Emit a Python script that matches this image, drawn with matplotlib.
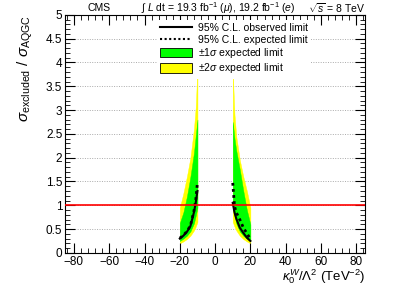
import matplotlib.pyplot as plt
from matplotlib.lines import Line2D
from matplotlib.patches import Patch
from matplotlib.ticker import MultipleLocator

plt.rcParams['font.family'] = ['Liberation Sans', 'DejaVu Sans']
plt.rcParams['mathtext.fontset'] = 'custom'
plt.rcParams['mathtext.rm'] = 'Liberation Sans'
plt.rcParams['mathtext.it'] = 'Liberation Sans:italic'
plt.rcParams['mathtext.sf'] = 'Liberation Sans'

# left branch (negative coupling)
k_left = [-20, -18, -16, -14, -12, -11, -10]
exp_left = [0.31, 0.37, 0.45, 0.57, 0.88, 1.1, 1.48]
obs_left = [0.3, 0.36, 0.44, 0.56, 0.85, 1.05, 1.3]
up2_left = [0.95, 1.25, 1.6, 2.0, 2.6, 3.05, 3.9]
up1_left = [0.63, 0.85, 1.18, 1.6, 2.1, 2.45, 2.8]
lo1_left = [0.25, 0.3, 0.36, 0.45, 0.62, 0.78, 0.95]
lo2_left = [0.2, 0.24, 0.29, 0.36, 0.47, 0.55, 0.65]

# right branch (positive coupling)
k_right = [10, 11, 12, 14, 16, 18, 20]
exp_right = [1.47, 0.98, 0.85, 0.7, 0.53, 0.41, 0.29]
obs_right = [1.05, 0.85, 0.72, 0.53, 0.42, 0.32, 0.25]
up2_right = [3.8, 2.9, 2.45, 1.95, 1.6, 1.3, 0.95]
up1_right = [2.75, 2.4, 2.15, 1.75, 1.3, 0.9, 0.6]
lo1_right = [0.95, 0.78, 0.62, 0.45, 0.36, 0.3, 0.25]
lo2_right = [0.65, 0.55, 0.47, 0.36, 0.29, 0.24, 0.2]

fig = plt.figure(figsize=(4.07, 2.92), dpi=100)
ax = fig.add_axes([0.160, 0.134, 0.737, 0.815])

for y in [0.5, 1.0, 1.5, 2.0, 2.5, 3.0, 3.5, 4.0, 4.5]:
    ax.axhline(y, color='#aaaaaa', linestyle=(0, (1, 1.5)), linewidth=0.7, zorder=0)

for k, lo2, up2, lo1, up1, ex, ob in [
        (k_left, lo2_left, up2_left, lo1_left, up1_left, exp_left, obs_left),
        (k_right, lo2_right, up2_right, lo1_right, up1_right, exp_right, obs_right)]:
    ax.fill_between(k, lo2, up2, color='#ffff00', linewidth=0.3, edgecolor='#ffff00', zorder=1)
    ax.fill_between(k, lo1, up1, color='#00ff00', linewidth=0.3, edgecolor='#00ff00', zorder=2)
    ax.plot(k, ob, color='black', linewidth=1.5, zorder=3)
    ax.plot(k, ex, color='black', linestyle=(0, (1, 1.2)), linewidth=2, zorder=4)

ax.axhline(1.0, color='#ff0000', linewidth=1.2, zorder=5)

ax.set_xlim(-85, 85)
ax.set_ylim(0, 5)
ax.xaxis.set_major_locator(MultipleLocator(20))
ax.xaxis.set_minor_locator(MultipleLocator(4))
ax.yaxis.set_major_locator(MultipleLocator(0.5))
ax.yaxis.set_minor_locator(MultipleLocator(0.1))
ax.yaxis.set_major_formatter(lambda v, p: f'{v:g}')
ax.tick_params(which='both', direction='in', top=True, right=True, labelsize=8.5, pad=2)
ax.tick_params(which='major', length=7)
ax.tick_params(which='minor', length=3.5)

ax.set_xlabel(r'$\kappa_0^W/\Lambda^2$ (TeV$^{-2}$)', fontsize=9.5, loc='right', labelpad=0)
ax.set_ylabel(r'$\sigma_{\rm excluded}\ /\ \sigma_{\rm AQGC}$', fontsize=11, loc='top', labelpad=8)

fig.text(0.215, 0.972, 'CMS', fontsize=7.5, va='center')
fig.text(0.535, 0.972, '\u222b $L$ dt = 19.3 fb$^{-1}$ ($\\mu$), 19.2 fb$^{-1}$ ($e$)',
         fontsize=7.5, va='center', ha='center')
fig.text(0.897, 0.972, r'$\sqrt{s}$ = 8 TeV', fontsize=7.5, va='center', ha='right')

handles = [
    Line2D([], [], color='black', linewidth=1.5),
    Line2D([], [], color='black', linestyle=(0, (1, 1.2)), linewidth=1.5),
    Patch(facecolor='#00ff00', edgecolor='black', linewidth=0.6),
    Patch(facecolor='#ffff00', edgecolor='black', linewidth=0.6),
]
labels = ['95% C.L. observed limit', '95% C.L. expected limit',
          r'$\pm$1$\sigma$ expected limit', r'$\pm$2$\sigma$ expected limit']
leg = ax.legend(handles, labels, loc='upper left', bbox_to_anchor=(0.29, 1.0),
                fontsize=7.5, frameon=True, fancybox=False, edgecolor='none',
                facecolor='white', framealpha=1, handlelength=3.0, handleheight=1.0,
                labelspacing=0.12, borderpad=0.3, handletextpad=0.6)
leg.set_zorder(6)

fig.savefig('out.png', dpi=100)
